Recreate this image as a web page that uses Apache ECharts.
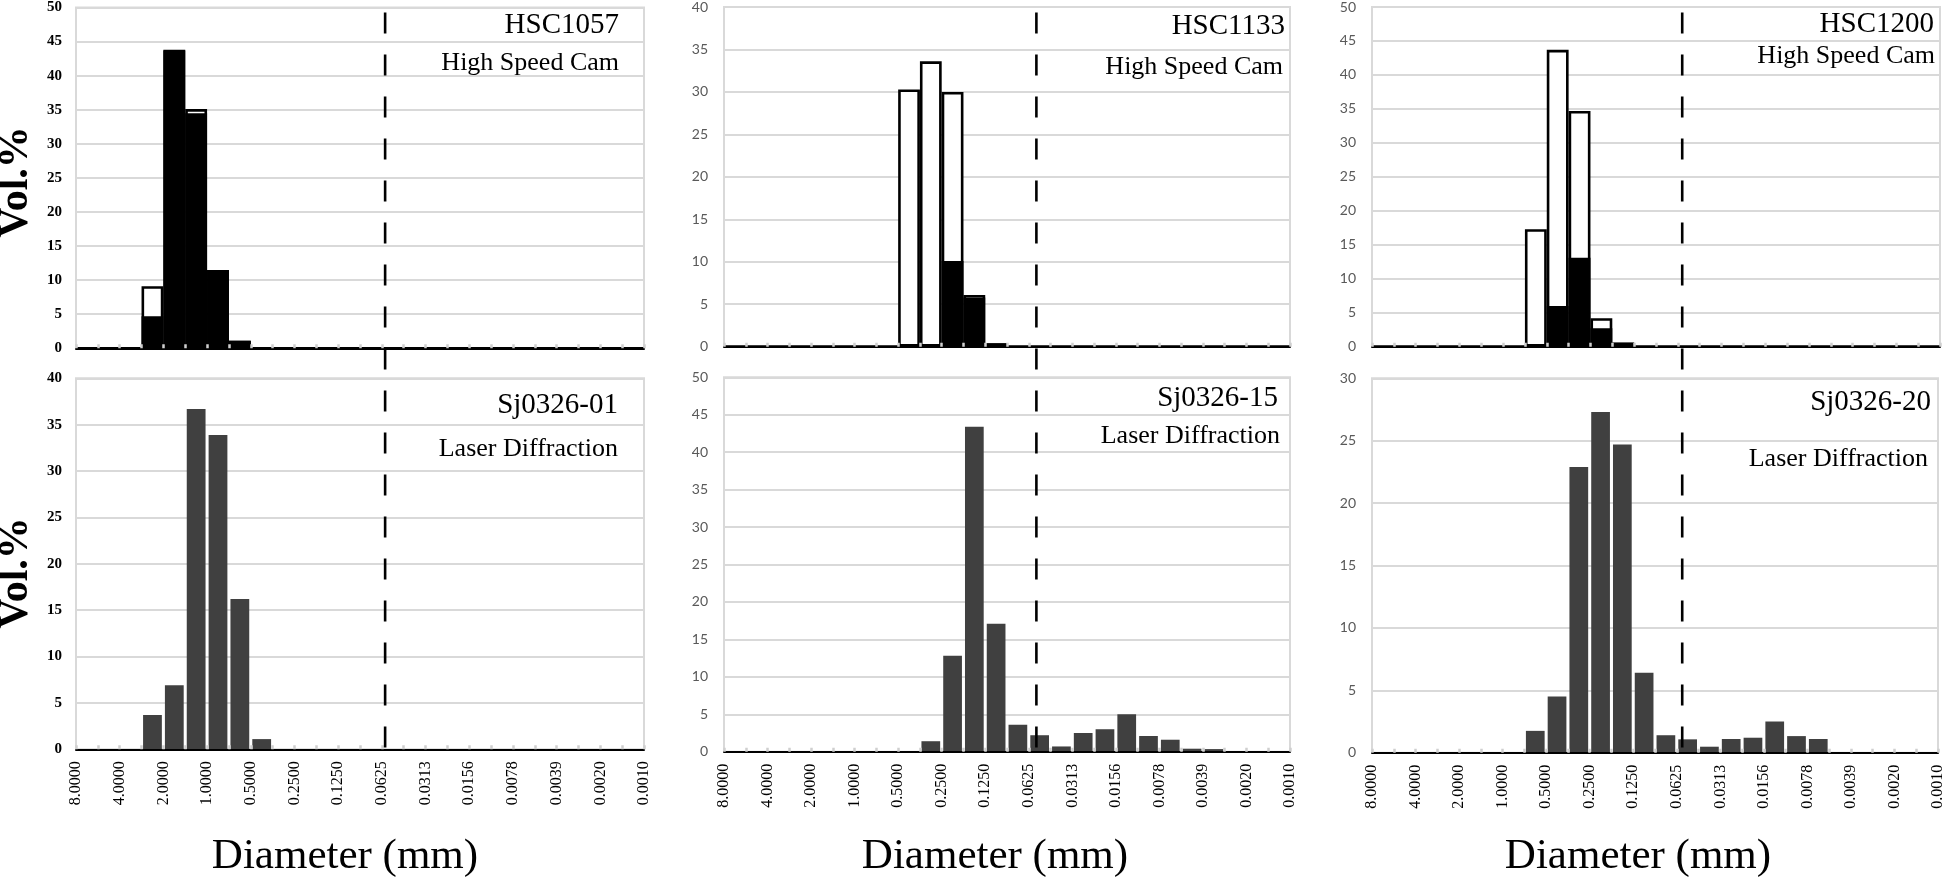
<!DOCTYPE html>
<html>
<head>
<meta charset="utf-8">
<script src="https://cdn.jsdelivr.net/npm/echarts@6/dist/echarts.min.js"></script>
<style>html,body{margin:0;padding:0;background:#fff}#c{width:1946px;height:880px}</style>
</head>
<body>
<div id="c"></div>
<script>
// ---------- DATA ----------
const tickLabels = ['8.0000','4.0000','2.0000','1.0000','0.5000','0.2500','0.1250','0.0625','0.0313','0.0156','0.0078','0.0039','0.0020','0.0010'];
const panelNames = ['HSC1057','HSC1133','HSC1200','Sj0326-01','Sj0326-15','Sj0326-20'];
const methods = ['High Speed Cam','Laser Diffraction'];
const yLabel = 'Vol.%';
const xLabel = 'Diameter (mm)';
const sandSiltBoundary = [14.15, 14.35, 14.2]; // position of dashed 0.0625 mm line (in half-phi bins)

// High speed camera: outlined (white) and filled (black) bars, 26 half-phi bins
const hsc1057Outline = [0,0,0,9.1,43.8,35.1,11.5,1.1,0,0,0,0,0,0,0,0,0,0,0,0,0,0,0,0,0,0];
const hsc1057Filled  = [0,0,0,4.7,43.7,34.5,11.5,1.1,0,0,0,0,0,0,0,0,0,0,0,0,0,0,0,0,0,0];
const hsc1133Outline = [0,0,0,0,0,0,0,0,30.3,33.6,30.0,6.1,0.4,0,0,0,0,0,0,0,0,0,0,0,0,0];
const hsc1133Filled  = [0,0,0,0,0,0,0,0,0.2,0.2,10.1,5.8,0.4,0,0,0,0,0,0,0,0,0,0,0,0,0];
const hsc1200Outline = [0,0,0,0,0,0,0,17.3,43.7,34.7,4.2,0.6,0,0,0,0,0,0,0,0,0,0,0,0,0,0];
const hsc1200Filled  = [0,0,0,0,0,0,0,0.2,6.0,13.1,2.7,0.6,0,0,0,0,0,0,0,0,0,0,0,0,0,0];
// Laser diffraction
const sj01 = [0,0,0,3.7,6.9,36.7,33.9,16.2,1.1,0,0,0,0,0,0,0,0,0,0,0,0,0,0,0,0,0];
const sj15 = [0,0,0,0,0,0,0,0,0,1.4,12.8,43.4,17.1,3.6,2.2,0.7,2.5,3.0,5.0,2.1,1.6,0.4,0.35,0,0,0];
const sj20 = [0,0,0,0,0,0,0,1.75,4.5,22.9,27.3,24.7,6.4,1.4,1.07,0.48,1.1,1.2,2.5,1.33,1.1,0,0,0,0,0];

// ---------- BUILD ----------
const SERIF = "'Liberation Serif','Times New Roman',serif";
const SANS = "Lato,'Open Sans',sans-serif";
const nBins = sj01.length;
const binNames = sj01.map((_, i) => 'bin' + i);
const edgeLabels = [];
for (let i = 0; i <= nBins; i++) edgeLabels.push(i % 2 === 0 ? tickLabels[i / 2] : '');

const cols = [
  {left: 76, width: 568},
  {left: 724, width: 566},
  {left: 1372, width: 568}
];
const panels = [
  {col:0, row:0, top:6.7, height:341.6, max:50, outline:hsc1057Outline, filled:hsc1057Filled, serifY:true},
  {col:1, row:0, top:5, height:341.7, max:40, outline:hsc1133Outline, filled:hsc1133Filled, serifY:false},
  {col:2, row:0, top:6, height:340.7, max:50, outline:hsc1200Outline, filled:hsc1200Filled, serifY:false},
  {col:0, row:1, top:378.3, height:371, max:40, values:sj01, serifY:true},
  {col:1, row:1, top:377.3, height:374.4, max:50, values:sj15, serifY:false},
  {col:2, row:1, top:378.3, height:374.4, max:30, values:sj20, serifY:false}
];
const titlePos = [
  {x:619, y:25.5, sx:619, sy:63},
  {x:1285, y:26, sx:1283, sy:67.5},
  {x:1934, y:24, sx:1935, sy:56},
  {x:618, y:405, sx:618, sy:449},
  {x:1278, y:398, sx:1280, sy:436},
  {x:1931, y:402, sx:1928, sy:459}
];

const grid = [], xAxis = [], yAxis = [], series = [], graphic = [];
panels.forEach((p, i) => {
  const c = cols[p.col];
  grid.push({left:c.left, top:p.top, width:c.width, height:p.height, show:true,
    borderColor:'#d9d9d9', borderWidth:2, backgroundColor:'transparent'});
  xAxis.push({type:'category', gridIndex:i, position:'bottom', data:binNames, boundaryGap:true, z:3,
    axisLine:{show:true, lineStyle:{color:'#000', width:2}},
    axisTick:{show:true, interval:0, inside:true, length:4, lineStyle:{color:'#cfcfcf', width:2.5}},
    axisLabel:{show:false}, splitLine:{show:false}});
  xAxis.push({type:'category', gridIndex:i, position:'bottom', data:edgeLabels, boundaryGap:false,
    axisLine:{show:false}, axisTick:{show:false}, splitLine:{show:false},
    axisLabel:{show:p.row === 1, interval:0, rotate:90, margin:12, fontFamily:SERIF, fontSize:16, color:'#000'}});
  yAxis.push({type:'value', gridIndex:i, position:'left', min:0, max:p.max, interval:5,
    axisLine:{show:false}, axisTick:{show:false},
    splitLine:{show:true, lineStyle:{color:'#d9d9d9', width:2}},
    axisLabel: p.serifY
      ? {margin:14, fontFamily:SERIF, fontSize:15, fontWeight:'bold', color:'#000'}
      : {margin:16, fontFamily:SANS, fontSize:14, color:'#595959'}});
  if (p.row === 0) {
    series.push({type:'bar', xAxisIndex:2*i, yAxisIndex:i, data:p.outline, barCategoryGap:'0%', barGap:'-100%',
      itemStyle:{color:'#fff', borderColor:'#000', borderWidth:2.6}, silent:true});
    series.push({type:'bar', xAxisIndex:2*i, yAxisIndex:i, data:p.filled, barCategoryGap:'0%', barGap:'-100%',
      itemStyle:{color:'#000', borderColor:'#000', borderWidth:2.6}, silent:true});
  } else {
    series.push({type:'bar', xAxisIndex:2*i, yAxisIndex:i, data:p.values, barCategoryGap:'14%',
      itemStyle:{color:'#404040'}, silent:true});
  }
  const t = titlePos[i];
  graphic.push({type:'text', x:t.x, y:t.y, z:20, style:{text:panelNames[i], fill:'#000',
    font:'29px ' + SERIF, textAlign:'right', textVerticalAlign:'middle', align:'right', verticalAlign:'middle'}});
  graphic.push({type:'text', x:t.sx, y:t.sy, z:20, style:{text:methods[p.row], fill:'#000',
    font:'26px ' + SERIF, textAlign:'right', textVerticalAlign:'middle', align:'right', verticalAlign:'middle'}});
});

// dashed sand/silt boundary spanning both rows of each column
const baselines = [749.3, 751.7, 752.7];
cols.forEach((c, k) => {
  const gi = grid.length;
  grid.push({left:c.left, top:12.5, width:c.width, height:baselines[k] - 12.5, show:false});
  xAxis.push({type:'value', gridIndex:gi, min:0, max:nBins, show:false});
  yAxis.push({type:'value', gridIndex:gi, min:0, max:1, show:false});
  series.push({type:'line', xAxisIndex:xAxis.length - 1, yAxisIndex:yAxis.length - 1, z:10, silent:true,
    symbol:'none', data:[[sandSiltBoundary[k], 1], [sandSiltBoundary[k], 0]],
    lineStyle:{color:'#000', width:2.6, type:[21, 21]}});
});

// axis titles
[182, 573].forEach(yy => graphic.push({type:'text', x:16, y:yy, rotation:Math.PI/2, z:20,
  style:{text:yLabel, fill:'#000', font:'bold 42px ' + SERIF, textAlign:'center', textVerticalAlign:'middle', align:'center', verticalAlign:'middle'}}));
[345, 995, 1638].forEach(xx => graphic.push({type:'text', x:xx, y:857, z:20,
  style:{text:xLabel, fill:'#000', font:'43px ' + SERIF, textAlign:'center', textVerticalAlign:'middle', align:'center', verticalAlign:'middle'}}));

const chart = echarts.init(document.getElementById('c'), null, {renderer:'canvas'});
chart.setOption({animation:false, backgroundColor:'#fff', grid, xAxis, yAxis, series, graphic});
</script>
</body>
</html>
